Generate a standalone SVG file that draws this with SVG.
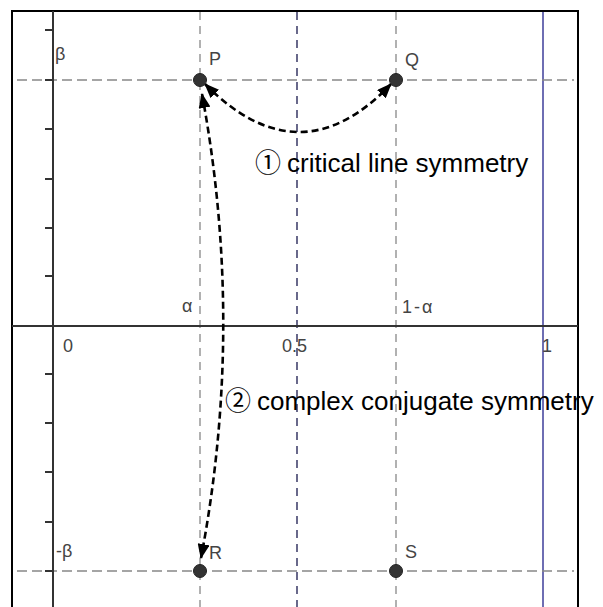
<svg xmlns="http://www.w3.org/2000/svg" width="603" height="607" viewBox="0 0 603 607">
<style>
.axis{stroke:#333;stroke-width:2;fill:none}
.tick{stroke:#333;stroke-width:2}
.vd{stroke:#888;stroke-width:1.3;stroke-dasharray:8,6;fill:none}
.hd{stroke:#888;stroke-width:1.3;stroke-dasharray:10,5;fill:none}
.lbl{font-family:"Liberation Sans",Arial,"DejaVu Sans",sans-serif;font-size:18px;fill:#444}
.big{font-family:"Liberation Sans",Arial,"DejaVu Sans",sans-serif;font-size:26px;fill:#000}
.circ{font-family:"Noto Sans CJK JP","DejaVu Sans",sans-serif;font-size:26px}
.pt{fill:#333;stroke:#222;stroke-width:1}
.conn{stroke:#000;stroke-width:2.6;stroke-dasharray:7,4;fill:none;marker-start:url(#ah);marker-end:url(#ah)}
</style>
<defs>
<marker id="ah" markerUnits="userSpaceOnUse" markerWidth="15" markerHeight="12" viewBox="0 0 15 12" refX="14" refY="6" orient="auto-start-reverse">
<path d="M0,0 L15,6 L0,12 z" fill="#000"/>
</marker>
</defs>
<rect width="603" height="607" fill="#fff"/>
<g id="frame">
<rect x="12" y="11" width="566" height="620" fill="none" stroke="#000" stroke-width="2"/>
</g>
<g id="grid">
<line class="vd" x1="200" y1="12" x2="200" y2="607"/>
<line class="vd" x1="396" y1="12" x2="396" y2="607"/>
<line x1="297" y1="12" x2="297" y2="607" stroke="#44446e" stroke-width="1.6" stroke-dasharray="8,6"/>
<line x1="543" y1="12" x2="543" y2="607" stroke="#4a4aa0" stroke-width="1.6"/>
<line class="hd" x1="17" y1="80" x2="574" y2="80"/>
<line class="hd" x1="17" y1="571" x2="574" y2="571"/>
</g>
<g id="axes">
<line class="axis" x1="53" y1="11" x2="53" y2="607"/>
<line class="axis" x1="12" y1="326" x2="578" y2="326"/>
<path class="tick" d="M45,30H53M45,80H53M45,129H53M45,179H53M45,228H53M45,276H53M45,374H53M45,423H53M45,472H53M45,522H53M45,571H53"/>
</g>
<g id="labels">
<text class="lbl" x="55" y="60">β</text>
<text class="lbl" x="56" y="557">-β</text>
<text class="lbl" x="182" y="312">α</text>
<text class="lbl" x="402" y="313" letter-spacing="2">1-α</text>
<text class="lbl" x="63" y="352">0</text>
<text class="lbl" x="282" y="352">0.5</text>
<text class="lbl" x="542" y="352">1</text>
</g>
<g id="connectors">
<path class="conn" d="M205,84 Q300,180 391,84"/>
<path class="conn" d="M202,94 Q245,326 201,558"/>
</g>
<g id="P"><circle class="pt" cx="200" cy="80" r="6.5"/><text class="lbl" x="209" y="65">P</text></g>
<g id="Q"><circle class="pt" cx="396" cy="80" r="6.5"/><text class="lbl" x="405" y="66">Q</text></g>
<g id="R"><circle class="pt" cx="200" cy="571" r="6.5"/><text class="lbl" x="209" y="559">R</text></g>
<g id="S"><circle class="pt" cx="396" cy="571" r="6.5"/><text class="lbl" x="405" y="558">S</text></g>
<g id="notes">
<text class="big" x="255" y="172"><tspan class="circ">①</tspan><tspan x="287">critical line symmetry</tspan></text>
<text class="big" x="225" y="410"><tspan class="circ">②</tspan><tspan x="257">complex conjugate symmetry</tspan></text>
</g>
</svg>
